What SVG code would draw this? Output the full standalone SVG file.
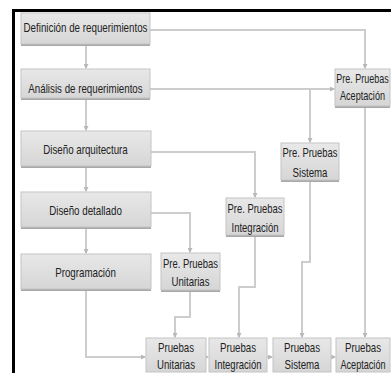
<svg xmlns="http://www.w3.org/2000/svg" width="391" height="373" viewBox="0 0 391 373">
<defs>
<linearGradient id="g" x1="0" y1="0" x2="0" y2="1">
<stop offset="0" stop-color="#e8e8e8"/>
<stop offset="1" stop-color="#d6d6d6"/>
</linearGradient>
<marker id="a" markerWidth="5" markerHeight="5" refX="4" refY="2.5" orient="auto" markerUnits="userSpaceOnUse">
<path d="M0,0 L5,2.5 L0,5 z" fill="#b8b8b8"/>
</marker>
</defs>
<style>
.b{fill:url(#g);stroke:#c4c4c4;stroke-width:1}
.s{fill:#a8a8a8}
.t{font-family:"Liberation Sans",Arial,sans-serif;font-size:13px;fill:#222;text-anchor:middle}
.c{fill:none;stroke:#cdcdcd;stroke-width:2}
</style>
<rect width="391" height="373" fill="#fff"/>
<g id="connectors">
<path class="c" d="M86,45 V68" marker-end="url(#a)"/>
<path class="c" d="M86,99 V130" marker-end="url(#a)"/>
<path class="c" d="M86,167 V191" marker-end="url(#a)"/>
<path class="c" d="M86,228 V253" marker-end="url(#a)"/>
<path class="c" d="M150,30 H365 V68" marker-end="url(#a)"/>
<path class="c" d="M150,89 H334" marker-end="url(#a)"/>
<path class="c" d="M310,89 V142" marker-end="url(#a)"/>
<path class="c" d="M151,152 H255 V197" marker-end="url(#a)"/>
<path class="c" d="M151,213 H190 V252" marker-end="url(#a)"/>
<path class="c" d="M86,290 V357 H145" marker-end="url(#a)"/>
<path class="c" d="M190,292 V317 H175 V337" marker-end="url(#a)"/>
<path class="c" d="M255,237 V287 H239 V337" marker-end="url(#a)"/>
<path class="c" d="M310,182 V262 H302 V337" marker-end="url(#a)"/>
<path class="c" d="M365,108 V337" marker-end="url(#a)"/>
<path class="c" d="M206,357 H208" marker-end="url(#a)"/>
<path class="c" d="M267,357 H272" marker-end="url(#a)"/>
<path class="c" d="M331,357 H335" marker-end="url(#a)"/>
</g>
<g id="n1"><rect class="s" x="21" y="44" width="129" height="2"/><rect class="b" x="21" y="13" width="129" height="31"/><text class="t" transform="translate(85.5,32) scale(0.753,1)">Definición de requerimientos</text></g>
<g id="n2"><rect class="s" x="21" y="98" width="129" height="2"/><rect class="b" x="21" y="69" width="129" height="29"/><text class="t" transform="translate(85.5,93) scale(0.75,1)">Análisis de requerimientos</text></g>
<g id="n3"><rect class="s" x="21" y="166" width="130" height="2"/><rect class="b" x="21" y="131" width="130" height="35"/><text class="t" transform="translate(85.5,154) scale(0.75,1)">Diseño arquitectura</text></g>
<g id="n4"><rect class="s" x="21" y="227" width="130" height="2"/><rect class="b" x="21" y="192" width="130" height="35"/><text class="t" transform="translate(85.5,215) scale(0.75,1)">Diseño detallado</text></g>
<g id="n5"><rect class="s" x="21" y="289" width="130" height="2"/><rect class="b" x="21" y="254" width="130" height="35"/><text class="t" transform="translate(85.5,277) scale(0.75,1)">Programación</text></g>
<g id="p4"><rect class="s" x="335" y="106" width="55" height="2"/><rect class="b" x="335" y="69" width="55" height="37"/><text class="t" transform="translate(362.5,83) scale(0.69,1)">Pre. Pruebas</text><text class="t" transform="translate(362.5,100) scale(0.7,1)">Aceptación</text></g>
<g id="p3"><rect class="s" x="281" y="180" width="58" height="2"/><rect class="b" x="281" y="143" width="58" height="37"/><text class="t" transform="translate(310,157) scale(0.725,1)">Pre. Pruebas</text><text class="t" transform="translate(310,177) scale(0.745,1)">Sistema</text></g>
<g id="p2"><rect class="s" x="226" y="235" width="58" height="2"/><rect class="b" x="226" y="198" width="58" height="37"/><text class="t" transform="translate(255,213) scale(0.725,1)">Pre. Pruebas</text><text class="t" transform="translate(255,232) scale(0.73,1)">Integración</text></g>
<g id="p1"><rect class="s" x="161" y="290" width="59" height="2"/><rect class="b" x="161" y="253" width="59" height="37"/><text class="t" transform="translate(190.5,268) scale(0.725,1)">Pre. Pruebas</text><text class="t" transform="translate(190.5,286) scale(0.74,1)">Unitarias</text></g>
<g id="b1"><rect class="b" x="146" y="338" width="60" height="34"/><text class="t" transform="translate(176,352) scale(0.744,1)">Pruebas</text><text class="t" transform="translate(176,369) scale(0.74,1)">Unitarias</text></g>
<g id="b2"><rect class="b" x="209" y="338" width="58" height="34"/><text class="t" transform="translate(238,352) scale(0.744,1)">Pruebas</text><text class="t" transform="translate(238,369) scale(0.73,1)">Integración</text></g>
<g id="b3"><rect class="b" x="273" y="338" width="58" height="34"/><text class="t" transform="translate(302,352) scale(0.744,1)">Pruebas</text><text class="t" transform="translate(302,369) scale(0.745,1)">Sistema</text></g>
<g id="b4"><rect class="b" x="336" y="338" width="54" height="34"/><text class="t" transform="translate(363,352) scale(0.744,1)">Pruebas</text><text class="t" transform="translate(363,369) scale(0.7,1)">Aceptación</text></g>
<g id="frame"><rect x="12" y="9" width="379" height="3" fill="#000"/><rect x="12" y="9" width="3" height="364" fill="#000"/></g>
</svg>
